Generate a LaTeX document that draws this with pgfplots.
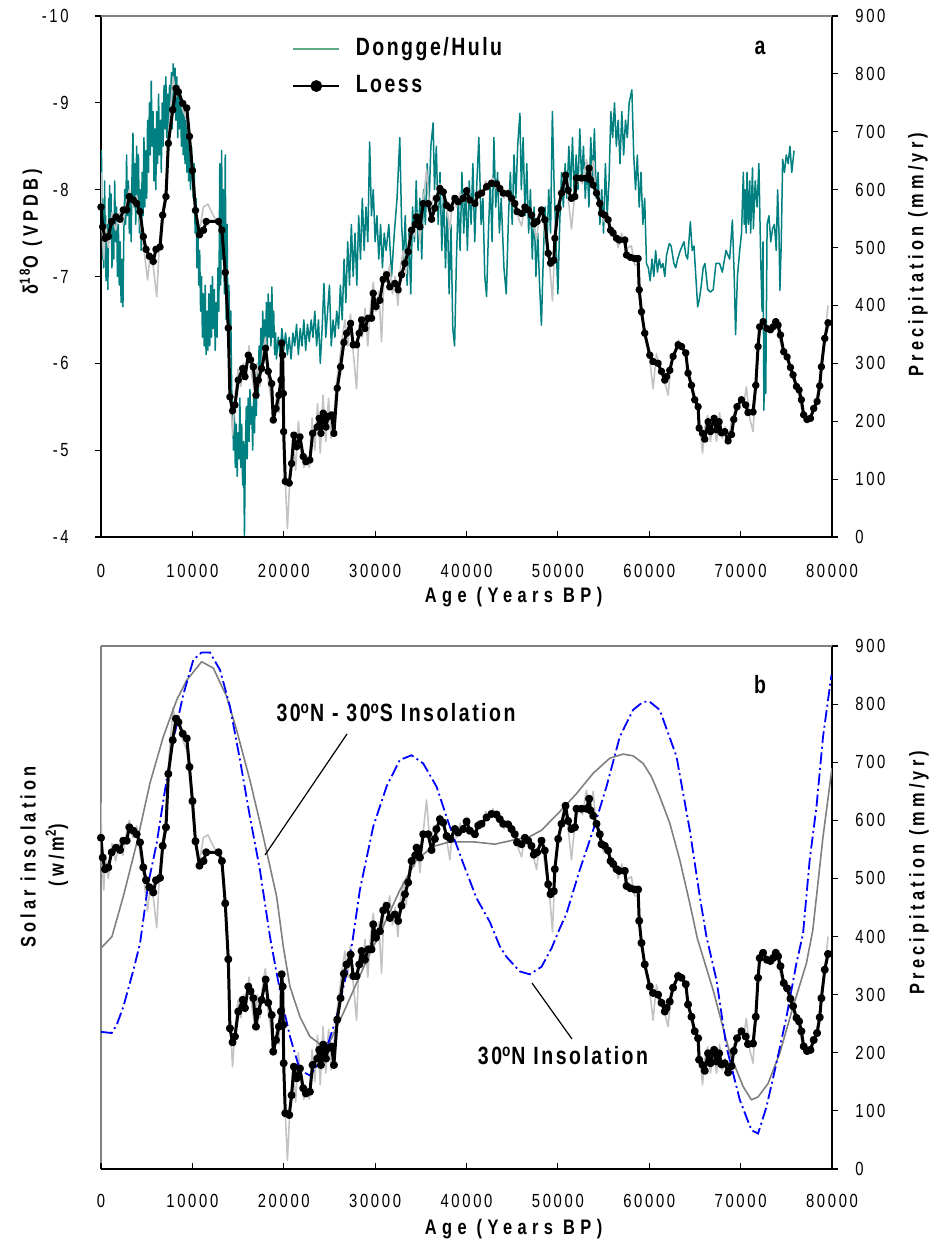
\documentclass[border=0pt]{standalone}
\usepackage{fontspec}
\setmainfont{Liberation Sans}
\newfontfamily\tickfnt{Liberation Sans}[FakeStretch=0.78,LetterSpace=14]
\newfontfamily\labfnt{Liberation Sans}[FakeStretch=0.78,LetterSpace=20]
\newfontfamily\agefnt{Liberation Sans}[FakeStretch=0.78,LetterSpace=26]
\newfontfamily\annfnt{Liberation Sans}[FakeStretch=0.78,LetterSpace=10]
\usepackage{pgfplots}
\usepackage{pgfplotstable}
\pgfplotsset{compat=1.18}
\newcommand\tkf{\tickfnt\fontsize{9.5}{11}\selectfont}
\newcommand\lbf{\labfnt\bfseries\fontsize{10.5}{12}\selectfont}
\newcommand\agf{\agefnt\bfseries\fontsize{10.5}{12}\selectfont}
\newcommand\anf{\annfnt\bfseries\fontsize{12.5}{14}\selectfont}
\definecolor{dgteal}{RGB}{0,128,128}
\definecolor{dgleg}{RGB}{90,170,130}
\definecolor{rawgray}{RGB}{195,195,195}
\definecolor{insgray}{RGB}{128,128,128}
\definecolor{insblue}{RGB}{0,0,255}

\pgfplotstableread{
age val
0 570
180 536
440 516
800 519
1170 545
1640 553
2080 549
2440 565
2810 565
3100 588
3540 582
3900 576
4270 562
4630 519
4930 497
5290 485
5720 476
6020 497
6460 501
6750 556
7110 588
7370 680
7850 738
8210 775
8470 769
8950 749
9390 741
9680 692
10010 633
10340 564
10780 522
11220 530
11520 545
12860 545
13230 530
13600 457
13930 361
14110 242
14400 218
14660 228
15020 271
15500 291
15750 277
16120 314
16370 306
16670 294
16960 245
17210 271
17580 291
18020 326
18300 286
18680 265
18850 202
19150 222
19470 245
19690 271
19770 335
19880 314
19950 248
19990 182
20170 96
20600 93
20860 127
21110 176
21410 156
21770 173
22130 139
22430 130
22860 133
23160 179
23660 190
23880 205
24070 179
24320 214
24620 190
24870 208
25240 211
25490 179
25850 257
26220 294
26580 336
26880 352
27320 369
27600 332
27970 332
28260 352
28520 375
28880 360
29240 378
29610 378
29790 421
30090 398
30520 409
30880 445
31250 453
31610 432
32160 438
32520 427
32890 453
33260 473
33620 493
33990 530
34400 540
34540 553
34900 536
35260 576
35810 576
36180 549
36540 568
36720 585
37090 602
37450 596
37820 573
38260 568
38730 585
39090 579
39640 585
40010 598
40370 582
40920 576
41280 591
41650 594
42200 605
42740 611
43290 610
43650 602
44010 594
44560 593
44930 585
45290 576
45540 562
46030 559
46390 570
46750 565
47110 556
47370 541
47730 545
48210 565
48570 548
48940 490
49200 473
49560 478
49670 516
50030 568
50400 594
50840 625
51120 599
51490 585
51860 588
52040 620
52590 620
53130 620
53420 637
53570 617
53860 608
54230 594
54590 576
54780 559
55140 556
55500 548
55770 530
56050 525
56420 516
56710 513
57330 513
57520 487
57950 483
58420 481
58780 481
58900 427
59150 389
59510 352
60060 314
60420 303
60970 300
61340 286
61700 271
61890 277
62250 288
62610 312
63160 332
63530 329
64000 318
64250 283
64620 262
64980 237
65350 225
65460 188
65830 179
66080 169
66440 199
66700 182
67100 205
67360 185
67650 199
67900 180
68260 182
68630 166
69000 177
69250 203
69610 225
70090 237
70560 228
70810 215
71360 216
71660 262
71910 329
72090 363
72460 372
72890 360
73260 358
73550 363
73850 372
74100 366
74360 349
74720 320
75090 311
75450 293
75740 280
76110 260
76400 254
76650 237
76900 211
77270 203
77640 205
78000 222
78370 234
78660 261
78840 294
79210 343
79570 370
}\loess

\pgfplotstableread{
age val
0 630
150 520
300 480
500 540
800 500
1200 560
1600 530
2000 560
2400 540
2800 580
3100 600
3500 570
3900 590
4300 540
4600 510
4900 470
5100 444
5400 490
5700 470
6100 415
6400 510
6800 570
7100 600
7400 700
7900 795
8200 760
8500 780
8900 740
9400 720
9700 680
10000 620
10300 570
10800 530
11200 570
11700 575
12300 555
12900 540
13300 520
13600 450
13900 370
14100 260
14400 176
14700 250
15000 290
15300 260
15600 300
15900 270
16200 330
16500 280
16800 250
17100 300
17400 260
17700 320
18000 345
18300 270
18600 240
18900 200
19200 240
19500 215
19700 300
19900 330
20100 120
20400 15
20700 110
21000 175
21300 115
21600 200
21900 145
22200 120
22500 140
22800 120
23100 205
23400 150
23700 230
24000 145
24300 245
24600 165
24900 240
25200 170
25500 215
25800 270
26100 305
26400 345
26700 375
27000 330
27300 385
27600 320
27970 256
28300 380
28600 345
28900 395
29200 330
29500 400
29800 440
30100 390
30400 425
30700 337
31000 460
31300 440
31600 470
31900 420
32200 450
32500 400
32800 470
33100 495
33400 455
33700 515
34000 540
34300 520
34600 560
34900 510
35300 585
35630 635
36000 560
36400 590
36800 570
37100 610
37500 590
37900 560
38180 532
38500 590
38900 570
39300 595
39700 580
40100 605
40500 575
40900 580
41300 600
41700 590
42100 615
42500 605
42900 620
43300 600
43700 605
44100 585
44500 600
44900 575
45300 585
45700 550
46030 537
46400 575
46800 560
47200 545
47670 515
48000 560
48400 545
48800 500
49100 470
49410 408
49700 520
50000 560
50400 600
50800 610
51100 590
51490 532
51900 600
52300 620
52700 610
53130 652
53500 615
53860 650
54200 590
54600 580
55000 545
55400 560
55800 520
56200 530
56600 500
57000 525
57400 495
57700 500
58050 503
58400 470
58800 470
59100 400
59500 350
59800 330
60100 300
60420 256
60790 317
61100 290
61500 280
62060 245
62400 300
62800 320
63200 340
63600 325
64000 310
64300 290
64700 250
65100 235
65500 200
65830 145
66100 190
66400 210
66700 165
67000 205
67360 165
67700 215
68000 170
68300 190
68600 160
69000 200
69300 215
69700 230
70000 240
70300 225
70630 259
71000 205
71360 182
71700 270
72000 340
72300 375
72700 355
73100 360
73500 370
73900 368
74300 340
74700 315
75100 310
75500 285
75900 265
76300 250
76700 220
77000 200
77400 205
77800 210
78200 230
78600 265
79000 310
79300 360
79570 400
}\raw

\pgfplotstableread{
age d
0 -8.0
50 -8.45
100 -7.6
150 -7.9
200 -7.2
250 -7.8
300 -7.1
350 -7.5
400 -8.1
450 -7.3
500 -7.7
550 -6.95
600 -7.4
650 -7.0
700 -7.6
750 -6.85
800 -7.3
850 -7.9
900 -7.4
950 -8.05
1000 -7.5
1100 -7.95
1200 -7.1
1300 -7.7
1400 -7.2
1500 -8.1
1600 -7.4
1700 -7.8
1800 -7.0
1900 -7.6
2000 -6.9
2100 -7.4
2200 -6.7
2300 -7.2
2400 -6.65
2500 -7.5
2600 -8.0
2700 -7.6
2800 -8.4
2900 -7.7
3000 -8.1
3100 -7.5
3200 -7.9
3300 -7.4
3400 -8.2
3500 -8.65
3600 -7.8
3700 -8.3
3800 -7.6
3900 -8.5
4000 -7.9
4100 -8.4
4200 -7.5
4300 -8.0
4400 -7.3
4500 -8.2
4600 -7.7
4700 -8.6
4800 -7.8
4900 -8.45
5000 -7.9
5100 -8.8
5200 -8.2
5300 -9.0
5400 -8.4
5500 -9.25
5600 -8.5
5700 -8.9
5800 -8.1
5900 -8.7
6000 -8.0
6100 -8.9
6200 -8.3
6300 -9.1
6400 -8.4
6500 -8.8
6600 -8.2
6700 -9.0
6800 -8.5
6900 -9.2
7000 -8.7
7100 -9.3
7200 -8.6
7300 -9.1
7400 -8.5
7500 -9.2
7600 -8.8
7700 -9.35
7800 -8.7
7900 -9.45
8000 -8.9
8100 -9.4
8200 -8.8
8300 -9.3
8400 -8.6
8500 -9.2
8600 -8.7
8700 -9.1
8800 -8.5
8900 -9.0
9000 -8.4
9100 -8.9
9200 -8.3
9300 -8.8
9400 -8.2
9500 -8.7
9600 -8.1
9700 -8.6
9800 -8.0
9900 -8.5
10000 -8.2
10100 -7.9
10200 -8.3
10300 -7.5
10400 -7.9
10500 -7.1
10600 -7.6
10700 -6.9
10800 -7.3
10900 -6.6
11000 -7.0
11100 -6.3
11200 -6.8
11300 -6.2
11400 -6.9
11500 -6.1
11600 -6.6
11700 -6.15
11800 -6.8
11900 -6.2
12000 -6.9
12100 -6.3
12200 -7.0
12300 -6.4
12400 -6.85
12500 -6.15
12600 -6.7
12700 -6.3
12800 -7.1
12900 -6.6
13000 -8.3
13100 -6.9
13200 -8.45
13300 -7.2
13400 -8.0
13500 -6.8
13600 -8.4
13700 -6.5
13800 -7.6
13900 -6.2
14000 -6.9
14100 -6.1
14200 -6.6
14300 -5.7
14400 -5.5
14500 -5.0
14600 -5.4
14700 -4.8
14800 -5.3
14900 -4.7
15000 -5.2
15100 -4.9
15200 -5.6
15300 -4.8
15400 -5.3
15500 -4.6
15600 -5.1
15700 -4.02
15800 -5.0
15900 -5.5
16000 -4.9
16100 -5.6
16200 -5.1
16300 -5.7
16400 -5.3
16500 -5.5
16600 -5.0
16700 -5.6
16800 -5.2
16900 -5.8
17000 -5.4
17100 -6.0
17200 -5.6
17300 -6.2
17400 -5.8
17500 -6.4
17600 -5.9
17700 -6.6
17800 -6.0
17900 -6.5
18000 -6.1
18100 -6.7
18200 -6.2
18300 -6.8
18400 -6.3
18500 -6.7
18600 -6.2
18700 -6.88
18800 -6.3
18900 -6.6
19000 -6.1
19100 -6.35
19200 -6.05
19400 -6.3
19600 -6.1
19800 -6.4
20000 -6.15
20200 -6.35
20400 -6.1
20600 -6.3
20800 -6.05
21000 -6.35
21200 -6.2
21400 -6.45
21600 -6.1
21800 -6.4
22000 -6.2
22200 -6.5
22400 -6.15
22600 -6.45
22800 -6.25
23000 -6.5
23200 -6.3
23400 -6.6
23600 -6.2
23800 -6.5
24000 -6.0
24200 -6.4
24400 -6.92
24600 -6.3
24800 -6.6
25000 -6.9
25200 -6.2
25400 -6.5
25600 -6.3
25800 -6.6
26000 -6.4
26200 -6.9
26400 -6.5
26600 -7.2
26800 -6.7
27000 -7.4
27200 -6.9
27400 -7.6
27600 -7.0
27800 -7.5
28000 -6.9
28200 -7.7
28400 -7.2
28600 -7.9
28800 -7.3
29000 -7.8
29200 -7.4
29400 -8.55
29600 -7.7
29800 -8.0
30000 -7.4
30200 -7.7
30400 -7.2
30600 -7.6
30800 -7.1
31000 -7.5
31200 -7.3
31500 -7.6
31800 -7.0
32100 -7.5
32400 -7.9
32700 -8.6
32900 -7.6
33100 -7.2
33300 -7.7
33500 -6.9
33700 -7.5
33900 -6.8
34100 -7.8
34300 -7.4
34500 -8.1
34700 -7.3
34900 -7.9
35100 -7.2
35300 -8.0
35500 -7.6
35700 -8.3
35900 -7.8
36100 -8.5
36350 -8.77
36500 -8.0
36700 -8.5
36900 -7.6
37100 -8.2
37300 -7.3
37500 -8.0
37700 -7.1
37900 -7.8
38100 -6.8
38300 -7.6
38500 -6.4
38700 -6.2
38900 -7.2
39100 -7.9
39300 -7.3
39500 -8.2
39700 -7.5
39900 -8.0
40100 -7.3
40300 -8.1
40500 -7.6
40700 -8.3
40900 -7.4
41100 -8.0
41350 -8.6
41600 -7.6
41800 -7.9
42000 -7.0
42200 -6.77
42400 -7.5
42600 -8.1
42800 -7.4
43000 -8.6
43200 -7.8
43400 -8.2
43600 -7.5
43800 -7.9
44100 -7.1
44350 -6.8
44600 -7.7
44800 -8.2
45000 -7.6
45200 -8.4
45400 -7.9
45600 -8.5
45850 -8.88
46000 -8.0
46200 -8.6
46400 -7.7
46600 -8.3
46800 -7.5
47000 -8.0
47200 -7.2
47400 -7.8
47600 -7.0
47800 -7.5
48000 -6.9
48200 -6.44
48400 -7.2
48600 -7.8
48800 -7.3
49000 -8.0
49200 -7.5
49400 -8.9
49600 -8.0
49800 -7.4
50000 -6.8
50200 -7.6
50400 -8.2
50600 -7.8
50800 -8.3
51000 -7.9
51200 -8.5
51400 -8.0
51600 -8.6
51800 -7.9
52000 -8.4
52200 -8.0
52400 -8.7
52600 -8.1
52800 -8.5
53000 -7.9
53200 -8.3
53400 -7.8
53600 -8.6
53800 -8.1
54000 -8.7
54200 -7.9
54400 -8.2
54600 -7.6
54800 -8.0
55000 -7.5
55200 -8.3
55400 -7.7
55600 -8.1
55800 -8.9
56000 -8.6
56200 -9.0
56400 -8.5
56600 -8.8
56800 -8.3
57000 -8.9
57200 -8.4
57400 -8.8
57600 -8.6
57800 -9.0
58100 -9.15
58300 -8.4
58500 -8.0
58700 -8.4
58900 -7.8
59100 -8.2
59300 -7.6
59500 -7.9
59700 -7.15
59900 -7.1
60100 -6.95
60300 -7.2
60500 -7.0
60700 -7.3
60900 -7.05
61100 -7.2
61300 -7.1
61500 -7.15
61700 -7.0
61900 -7.25
62200 -7.38
62400 -7.35
62700 -7.15
62900 -7.1
63100 -7.2
63400 -7.3
63800 -7.4
64000 -7.25
64200 -7.2
64500 -7.63
64700 -7.3
64900 -7.35
65100 -7.0
65300 -6.65
65500 -6.75
65700 -6.9
65900 -7.1
66100 -7.15
66400 -6.85
66700 -6.82
67000 -6.85
67300 -7.15
67700 -7.15
68000 -7.05
68400 -7.3
68800 -7.2
69100 -7.65
69300 -7.0
69450 -6.33
69650 -7.0
69900 -7.3
70100 -7.5
70300 -8.2
70400 -7.6
70500 -8.0
70600 -7.5
70700 -8.2
70850 -7.6
71000 -8.1
71100 -7.5
71300 -8.25
71400 -7.55
71600 -8.1
71800 -7.8
72000 -8.3
72200 -7.2
72350 -6.6
72450 -7.4
72550 -5.46
72650 -6.5
72750 -5.65
72900 -7.6
73100 -7.7
73300 -7.4
73500 -7.55
73700 -7.6
73900 -7.3
74050 -8.0
74200 -7.5
74300 -6.84
74450 -7.4
74600 -8.35
74800 -8.2
75000 -8.4
75200 -8.3
75400 -8.5
75600 -8.2
75850 -8.45
}\dongge

\pgfplotstableread{
age val
0 236
1170 234
1720 248
2440 279
3540 342
4270 388
5180 492
6090 560
7000 652
7910 738
9000 816
10100 876
11010 889
11920 889
13020 859
14110 796
15210 704
16300 606
17390 515
18490 400
19220 337
19950 279
20680 228
21770 170
22860 161
23590 176
24690 208
25790 262
26880 337
27500 390
28330 480
29790 589
31250 658
32710 704
33990 712
35260 698
36720 658
38180 589
39640 526
41100 466
42560 425
43650 383
44380 365
45840 340
46930 335
48210 348
49310 380
50210 414
50950 440
52400 515
53860 583
55320 658
56780 744
58230 790
59330 804
60060 804
61150 790
62980 710
64440 583
65530 469
66260 400
67360 325
68450 210
69910 119
71180 67
71910 61
72830 107
73920 182
75020 262
76110 354
76830 405
77560 532
78300 623
79020 744
79940 850
}\insN

\pgfplotstableread{
age val
0 380
1200 400
2440 469
3900 560
5360 664
6820 744
8280 807
9380 841
11020 873
12290 862
13750 813
14850 755
16300 669
17760 572
19220 469
19950 383
20680 314
21770 262
22860 228
24140 213
25050 219
26510 268
27970 320
29430 371
30700 411
32710 480
34540 532
36350 555
38180 563
40730 563
43100 559
45110 566
46930 572
48210 583
50210 615
52040 646
53860 681
55690 707
57140 714
58230 711
59330 698
60250 675
61150 641
62250 595
63340 532
64440 457
65260 397
66990 308
68820 199
70270 142
71180 119
71910 124
73000 147
74280 199
75740 279
77200 354
77900 411
79020 572
80000 690
}\insNS

\pgfplotsset{
  common/.style={scale only axis, width=365.5pt, anchor=south west,
    xmin=0, xmax=80000, major tick length=3pt, scaled ticks=false,
    tick style={line width=0.6pt, black}},
  loessline/.style={black, line width=1.5pt, line join=round, mark=*, mark size=1.1pt, mark options={solid, fill=black}},
  rawline/.style={rawgray, line width=0.8pt, line join=round},
  precipaxis/.style={axis x line*=bottom, axis y line*=right, ymin=0, ymax=900,
    xtick={0,10000,20000,30000,40000,50000,60000,70000,80000},
    xticklabels={0,10000,20000,30000,40000,50000,60000,70000,80000},
    xtick align=inside,
    ytick={0,100,200,300,400,500,600,700,800,900},
    yticklabels={0,100,200,300,400,500,600,700,800,900},
    ytick align=outside,
    yticklabel style={font=\tkf, anchor=west, inner sep=0pt, xshift=8.5pt},
    x axis line style={black, line width=0.75pt},
    y axis line style={black, line width=1.2pt}},
}

\begin{document}
\begin{tikzpicture}
\useasboundingbox (0,0) rectangle (466pt,621pt);

% ---------------- panel a ----------------
\begin{axis}[common, name=a1, at={(50.5pt,352.5pt)}, height=260.5pt,
  ymin=-10, ymax=-4, y dir=reverse, hide x axis, xtick=\empty, axis y line*=left,
  ytick={-10,-9,-8,-7,-6,-5,-4}, yticklabels={-10,-9,-8,-7,-6,-5,-4},
  ytick align=outside,
  yticklabel style={font=\tkf, anchor=east, inner sep=0pt, xshift=-13pt},
  y axis line style={black, line width=0.8pt}]
\addplot[dgteal, line width=0.75pt, line join=round] table[x=age, y=d] {\dongge};
\end{axis}

\begin{axis}[common, precipaxis, name=a2, at={(50.5pt,352.5pt)}, height=260.5pt,
  xticklabel style={font=\tkf, anchor=base, inner sep=0pt, yshift=-20.5pt},
  legend style={at={(axis description cs:0.2613,0.901)}, anchor=west,
    draw=none, fill=none, inner sep=0pt, row sep=7pt, font=\anf,
    nodes={inner sep=0pt, text height=9pt, text depth=2.5pt}},
  legend cell align=left,
  legend image code/.code={\draw[mark repeat=2, mark phase=2, #1, line width=0.9pt, mark size=2.5pt]
     plot coordinates {(0pt,0pt) (11.5pt,0pt) (23pt,0pt)}; \path (30.5pt,0pt);}]
\addlegendimage{dgleg, line width=1.2pt}
\addlegendentry{Dongge/Hulu}
\addplot[rawline, forget plot] table[x=age, y=val] {\raw};
\addplot[loessline] table[x=age, y=val] {\loess};
\addlegendentry{Loess}
\end{axis}
\draw[insgray, line width=0.7pt] (a2.north west) -- (a2.north east);

% ---------------- panel b ----------------
\begin{axis}[common, name=b1, at={(50.5pt,36.5pt)}, height=261.5pt,
  ymin=0, ymax=1, hide x axis, xtick=\empty, axis y line*=left, ytick=\empty,
  y axis line style={insgray, line width=0.7pt}]
\addplot[draw=none, forget plot] coordinates {(0,0.5)};
\end{axis}

\begin{axis}[common, precipaxis, name=b2, at={(50.5pt,36.5pt)}, height=261.5pt,
  xticklabel style={font=\tkf, anchor=base, inner sep=0pt, yshift=-19.5pt}]
\addplot[rawline] table[x=age, y=val] {\raw};
\addplot[insgray, line width=0.8pt, line join=round] table[x=age, y=val] {\insNS};
\addplot[insblue, line width=0.9pt, dash pattern=on 6pt off 1.8pt on 1pt off 1.8pt] table[x=age, y=val] {\insN};
\addplot[loessline, mark size=1.25pt] table[x=age, y=val] {\loess};
\end{axis}
\draw[insgray, line width=0.7pt] (b2.north west) -- (b2.north east);

% ---------------- labels ----------------
\node[font=\anf] at (380pt,597pt) {a};
\node[font=\anf] at (380pt,278.5pt) {b};
\node[font=\lbf, rotate=90] at (15.5pt,505pt) {δ\textsuperscript{18}O (VPDB)};
\node[font=\lbf, rotate=90] at (459pt,493.75pt) {Precipitation (mm/yr)};
\node[font=\lbf, rotate=90] at (459.5pt,184.75pt) {Precipitation (mm/yr)};
\node[font=\agf, anchor=base] at (256.75pt,319.5pt) {Age (Years BP)};
\node[font=\agf, anchor=base] at (256.75pt,3.5pt) {Age (Years BP)};
\node[font=\lbf, rotate=90] at (14pt,192.5pt) {Solar insolation};
\node[font=\lbf, rotate=90] at (28.5pt,193.5pt) {(w/m\textsuperscript{2})};
\node[font=\anf] at (198pt,264.5pt) {30\textsuperscript{o}N - 30\textsuperscript{o}S Insolation};
\node[font=\anf] at (281.5pt,93pt) {30\textsuperscript{o}N Insolation};
\draw[black, line width=0.6pt] (173.5pt,254pt) -- (132.5pt,193.5pt);
\draw[black, line width=0.6pt] (266pt,129.5pt) -- (286pt,101.5pt);
\end{tikzpicture}
\end{document}
